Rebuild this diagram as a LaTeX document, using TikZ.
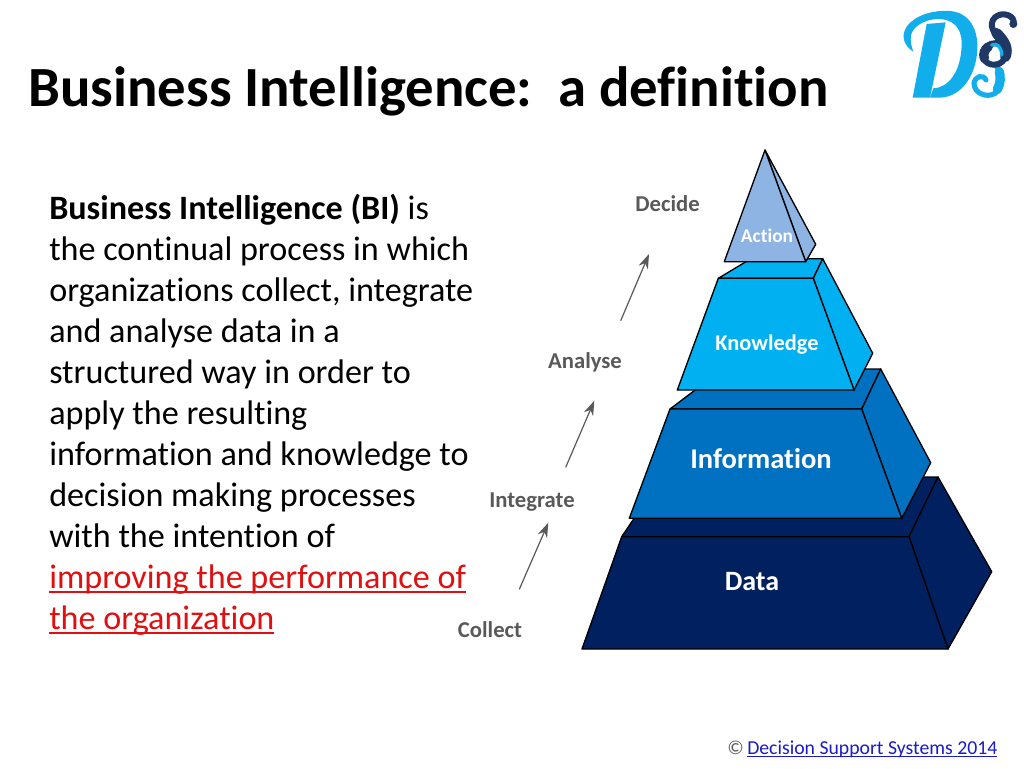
\documentclass[tikz,border=0pt]{standalone}
\usepackage{fontspec}
\setmainfont{Carlito}[Ligatures=CommonOff]
\usetikzlibrary{arrows.meta}
\newsavebox{\ulsave}
\newcommand{\lineunder}[3]{\sbox{\ulsave}{#3}\rlap{\raisebox{-#1}{\rule{\wd\ulsave}{#2}}}\usebox{\ulsave}}
\definecolor{cData}{HTML}{002060}
\definecolor{cInfo}{HTML}{0070C0}
\definecolor{cKnow}{HTML}{00B0F0}
\definecolor{cAct}{HTML}{8EB4E3}
\definecolor{cGray}{HTML}{595959}
\definecolor{cRed}{HTML}{E01010}
\definecolor{cLink}{HTML}{1A1AC8}
\definecolor{cLogo}{HTML}{12AEEB}
\definecolor{cLogoDark}{HTML}{1F3864}
\tikzset{
  titletext/.style={anchor=base west,inner sep=0pt,font=\fontsize{42.6}{50}\selectfont\bfseries,text=black},
  bodytext/.style={anchor=base west,inner sep=0pt,font=\fontsize{25.6}{31}\selectfont,text=black},
  redtext/.style={bodytext,text=cRed},
  steplabel/.style={anchor=center,inner sep=0pt,font=\fontsize{17}{20}\selectfont\bfseries,text=cGray},
  layerlabel/.style={anchor=center,inner sep=0pt,text=white,font=\fontsize{#1}{24}\selectfont\bfseries},
  face/.style={draw=black,line width=1pt,line join=round,fill=#1},
  uparrow/.style={draw=cGray,line width=0.9pt,-{Stealth[length=11pt,width=7.5pt]}},
  footertext/.style={anchor=base west,inner sep=0pt,font=\fontsize{14.8}{18}\selectfont},
}
\begin{document}
\begin{tikzpicture}[x=0.75pt,y=-0.75pt]
\useasboundingbox (0,0) rectangle (1024,768);
\fill[white] (0,0) rectangle (1024,768);

% title
\node[titletext] (title) at (28,106) {Business Intelligence:\ \ a definition};

% body
\node[bodytext] (l1) at (49,219.5) {\textbf{Business Intelligence (BI)} is};
\node[bodytext] (l2) at (49,260.5) {the continual process in which};
\node[bodytext] (l3) at (49,301.5) {organizations collect, integrate};
\node[bodytext] (l4) at (49,342.5) {and analyse data in a};
\node[bodytext] (l5) at (49,383.5) {structured way in order to};
\node[bodytext] (l6) at (49,424.5) {apply the resulting};
\node[bodytext] (l7) at (49,465.5) {information and knowledge to};
\node[bodytext] (l8) at (49,506.5) {decision making processes};
\node[bodytext] (l9) at (49,547.5) {with the intention of};
\node[redtext] (l10) at (49,588.5) {\lineunder{3pt}{1.3pt}{improving the performance of}};
\node[redtext] (l11) at (49,629.5) {\lineunder{3pt}{1.3pt}{the organization}};

% pyramid: data
\draw[face=cData] (621.7,536.7) -- (662,477) -- (938,477) -- (909,536.7) -- cycle;
\draw[face=cData] (909,536.7) -- (938,477) -- (991.7,571.7) -- (948,649) -- cycle;
\draw[face=cData] (621.7,536.7) -- (909,536.7) -- (948,649) -- (582,649) -- cycle;
% information
\draw[face=cInfo] (670,409) -- (723,369) -- (880.7,369) -- (861.7,409) -- cycle;
\draw[face=cInfo] (861.7,409) -- (880.7,369) -- (930.7,462.7) -- (901.7,518.3) -- cycle;
\draw[face=cInfo] (670,409) -- (861.7,409) -- (901.7,518.3) -- (629.3,518.3) -- cycle;
% knowledge
\draw[face=cKnow] (718.3,278.3) -- (751,258.7) -- (822.7,258.7) -- (813.3,278.3) -- cycle;
\draw[face=cKnow] (813.3,278.3) -- (822.7,258.7) -- (872.7,353.3) -- (854,390) -- cycle;
\draw[face=cKnow] (718.3,278.3) -- (813.3,278.3) -- (854,390) -- (677.3,390) -- cycle;
% action
\draw[face=cAct] (765,150) -- (815.7,244.3) -- (805.7,261.7) -- cycle;
\draw[face=cAct] (765,150) -- (805.7,261.7) -- (724.3,261.7) -- cycle;

% layer labels
\node[layerlabel=14.5] (action) at (767,236) {Action};
\node[layerlabel=16.8] (knowledge) at (767,345) {Knowledge};
\node[layerlabel=21.4] (information) at (761,459) {Information};
\node[layerlabel=21] (data) at (752,582) {Data};

% step labels
\node[steplabel] (decide) at (667.5,204) {Decide};
\node[steplabel] (analyse) at (585,362) {Analyse};
\node[steplabel] (integrate) at (532,502) {Integrate};
\node[steplabel] (collect) at (490,630) {Collect};

% arrows
\coordinate (a1s) at (519.3,589.3);
\coordinate (a1e) at (548.3,522.7);
\coordinate (a2s) at (565.7,467.3);
\coordinate (a2e) at (594.3,400.7);
\coordinate (a3s) at (620.7,320.7);
\coordinate (a3e) at (649,254);
\draw[uparrow] (a1s) -- (a1e);
\draw[uparrow] (a2s) -- (a2e);
\draw[uparrow] (a3s) -- (a3e);

% footer
\node[footertext,text=cGray] (copy) at (727,754) {©};
\node[footertext,text=cLink] (link) at (747,754) {\lineunder{2pt}{0.8pt}{Decision Support Systems 2014}};

% logo
\begin{scope}[shift={(880,0)},x=0.25pt,y=-0.25pt]
  \fill[cLogo] (100,155) .. controls (75,140) and (60,110) .. (80,80)
    .. controls (110,40) and (170,30) .. (210,33)
    .. controls (270,38) and (295,90) .. (292,150)
    .. controls (288,220) and (250,290) .. (180,293)
    -- (150,293) -- (160,265)
    .. controls (215,262) and (245,200) .. (245,130)
    .. controls (245,80) and (215,55) .. (170,57)
    .. controls (130,60) and (100,80) .. (93,105)
    .. controls (90,125) and (95,140) .. (100,155) -- cycle;
  \fill[cLogo] (140,72) -- (197,67) -- (150,293) -- (98,293) -- cycle;
  % light S
  \draw[cLogo,line width=3.8pt,line cap=round] (318,240) .. controls (310,222) and (285,228) .. (282,250)
    .. controls (282,280) and (320,295) .. (345,280)
    .. controls (375,260) and (370,215) .. (345,195);
  \draw[cLogo,line width=7pt,line cap=round] (358,215) .. controls (362,230) and (362,250) .. (352,268);
  % dark S
  \draw[cLogoDark,line width=4.5pt,line cap=round] (400,72) .. controls (408,48) and (368,32) .. (345,52)
    .. controls (322,75) and (345,105) .. (365,125)
    .. controls (385,145) and (382,192) .. (345,194)
    .. controls (312,197) and (296,160) .. (320,140)
    .. controls (335,125) and (360,125) .. (368,145);
  \fill[cLogoDark] (400,72) circle[radius=12];
  \draw[cLogoDark,line width=8pt,line cap=round] (350,100) .. controls (375,125) and (385,145) .. (376,170);
  \draw[cLogoDark,line width=7pt,line cap=round] (313,175) .. controls (308,160) and (315,148) .. (325,140);
  \draw[cLogo,line width=2.5pt,line cap=round] (335,135) .. controls (350,128) and (365,140) .. (365,165);
\end{scope}
\end{tikzpicture}
\end{document}
